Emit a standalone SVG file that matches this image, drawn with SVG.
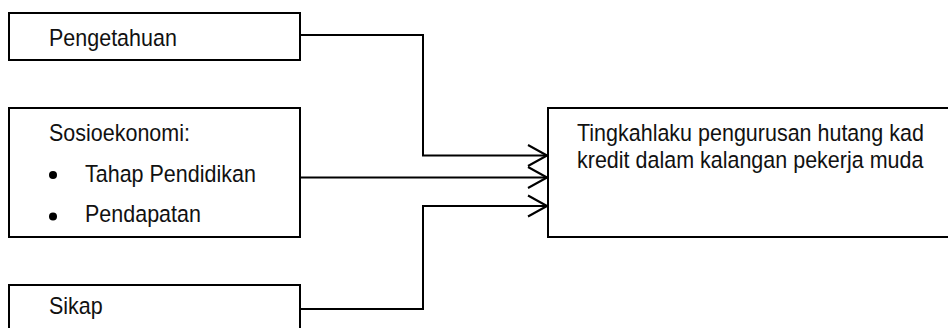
<svg xmlns="http://www.w3.org/2000/svg" width="948" height="328" viewBox="0 0 948 328">
  <style>
    .box { fill: #ffffff; stroke: #000000; stroke-width: 2; }
    .lbl { font-family: "Liberation Sans", Arial, sans-serif; font-size: 21.5px; fill: #111111; }
    .wire { fill: none; stroke: #000000; stroke-width: 2; }
    .dot { fill: #000000; }
  </style>
  <defs>
    <marker id="chevron" markerUnits="userSpaceOnUse" markerWidth="24" markerHeight="26" viewBox="-22 -13 24 26" refX="0" refY="0" orient="auto" overflow="visible">
      <path d="M-19,-10.5 L0,0 L-19,10.5" fill="none" stroke="#000000" stroke-width="2" stroke-linejoin="round"/>
    </marker>
  </defs>

  <rect width="948" height="328" fill="#ffffff"/>

  <!-- labels are set slightly tall: each text sits at its baseline and is stretched vertically -->
  <g id="pengetahuan">
    <rect class="box" x="9" y="13" width="291" height="47"/>
    <text class="lbl" transform="translate(49,46) scale(1,1.12)">Pengetahuan</text>
  </g>

  <g id="sosioekonomi">
    <rect class="box" x="9" y="108" width="291" height="129"/>
    <text class="lbl" transform="translate(49,141) scale(1,1.12)">Sosioekonomi:</text>
    <circle class="dot" cx="53" cy="175" r="4"/>
    <text class="lbl" transform="translate(85,182) scale(1,1.12)">Tahap Pendidikan</text>
    <circle class="dot" cx="53" cy="216.5" r="4"/>
    <text class="lbl" transform="translate(85,222) scale(1,1.12)">Pendapatan</text>
  </g>

  <g id="sikap">
    <rect class="box" x="9" y="285" width="291" height="60"/>
    <text class="lbl" transform="translate(49,314) scale(1,1.12)">Sikap</text>
  </g>

  <g id="tingkahlaku">
    <rect class="box" x="548" y="108" width="420" height="129"/>
    <text class="lbl" transform="translate(577,141) scale(1,1.12)">Tingkahlaku pengurusan hutang kad</text>
    <text class="lbl" transform="translate(577,168) scale(1,1.12)">kredit dalam kalangan pekerja muda</text>
  </g>

  <g id="connectors">
    <path class="wire" d="M300,35 H423 V155.5 H547" marker-end="url(#chevron)"/>
    <path class="wire" d="M300,177.5 H547" marker-end="url(#chevron)"/>
    <path class="wire" d="M300,309 H423 V206 H547" marker-end="url(#chevron)"/>
  </g>
</svg>
